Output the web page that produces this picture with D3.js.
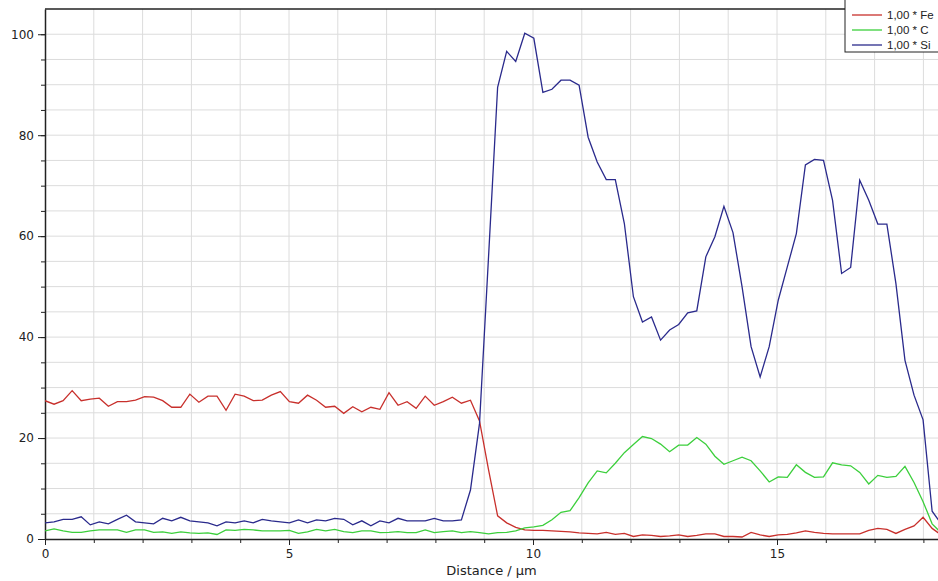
<!DOCTYPE html>
<html>
<head>
<meta charset="utf-8">
<script src="https://cdn.jsdelivr.net/npm/d3@7"></script>
<style>
  html, body { margin: 0; padding: 0; background: #fff; overflow: hidden; }
  svg text { font-family: "DejaVu Sans", Verdana, sans-serif; fill: #222; }
</style>
</head>
<body>
<div id="chart"></div>
<script>
// Line scan, one sample every ~0.1855 µm
const step = 0.1855
const xTicks = [0, 5, 10, 15]
const yTicks = [0, 20, 40, 60, 80, 100]
const seriesNames = ["1,00 * Fe", "1,00 * C", "1,00 * Si"]

const fe = [27.4, 26.7, 27.4, 29.4, 27.4, 27.7, 27.9, 26.3, 27.2, 27.2,
  27.5, 28.2, 28.1, 27.4, 26.1, 26.1, 28.7, 27.1, 28.3, 28.3,
  25.5, 28.7, 28.3, 27.4, 27.5, 28.5, 29.2, 27.2, 26.9, 28.5,
  27.5, 26.1, 26.3, 24.9, 26.2, 25.2, 26.1, 25.7, 29.0, 26.5,
  27.2, 25.9, 28.3, 26.5, 27.2, 28.1, 26.9, 27.5, 23.4, 13.7,
  4.6, 3.2, 2.3, 1.8, 1.7, 1.7, 1.6, 1.5, 1.4, 1.2,
  1.1, 1.0, 1.3, 0.9, 1.1, 0.5, 0.8, 0.7, 0.5, 0.6,
  0.8, 0.5, 0.7, 1.0, 1.0, 0.5, 0.5, 0.4, 1.3, 0.8,
  0.5, 0.8, 0.9, 1.2, 1.6, 1.3, 1.1, 1.0, 1.0, 1.0,
  1.0, 1.7, 2.1, 1.9, 1.1, 1.9, 2.6, 4.3, 2.1, 0.8]

const c = [1.6, 2.0, 1.6, 1.3, 1.3, 1.6, 1.8, 1.8, 1.8, 1.3,
  1.8, 1.8, 1.3, 1.4, 1.1, 1.4, 1.2, 1.1, 1.2, 0.9,
  1.8, 1.7, 1.9, 1.8, 1.6, 1.6, 1.6, 1.7, 1.1, 1.4,
  1.9, 1.6, 1.9, 1.45, 1.25, 1.6, 1.6, 1.25, 1.3, 1.45,
  1.25, 1.25, 1.8, 1.25, 1.45, 1.6, 1.25, 1.45, 1.25, 1.0,
  1.25, 1.3, 1.6, 2.2, 2.4, 2.7, 3.8, 5.3, 5.6, 8.2,
  11.1, 13.5, 13.1, 15.0, 17.1, 18.7, 20.3, 19.9, 18.8, 17.3,
  18.6, 18.6, 20.1, 18.8, 16.4, 14.8, 15.5, 16.2, 15.5, 13.5,
  11.3, 12.3, 12.2, 14.7, 13.2, 12.2, 12.3, 15.1, 14.7, 14.5,
  13.2, 10.9, 12.6, 12.2, 12.4, 14.4, 11.2, 7.4, 3.0, 1.2]

const si = [3.2, 3.4, 3.9, 3.9, 4.4, 2.8, 3.4, 3.0, 3.9, 4.7,
  3.4, 3.2, 3.0, 4.1, 3.6, 4.3, 3.6, 3.4, 3.2, 2.6,
  3.4, 3.2, 3.6, 3.2, 3.9, 3.6, 3.4, 3.2, 3.8, 3.2,
  3.8, 3.6, 4.1, 3.9, 2.8, 3.6, 2.6, 3.6, 3.2, 4.1,
  3.6, 3.6, 3.6, 4.1, 3.6, 3.6, 3.8, 9.7, 22.9, 56.0,
  89.5, 96.6, 94.6, 100.2, 99.2, 88.5, 89.1, 90.9, 90.9, 89.9,
  79.6, 74.7, 71.2, 71.2, 62.5, 48.0, 43.0, 44.0, 39.4, 41.4,
  42.5, 44.8, 45.2, 55.9, 59.9, 65.9, 60.7, 50.0, 38.1, 32.1,
  38.1, 47.3, 53.9, 60.5, 74.1, 75.2, 75.0, 67.1, 52.6, 53.8,
  71.1, 67.1, 62.4, 62.4, 50.6, 35.4, 28.5, 23.6, 5.5, 3.0]

const colors = ["#c8302c", "#3ccf3c", "#2a2a8c"]

const width = 938
const height = 581
const margin = { top: 9, right: 0, bottom: 42, left: 45 }
const innerW = width - margin.left - margin.right
const innerH = height - margin.top - margin.bottom

const svg = d3.select("#chart")
  .append("svg")
  .attr("width", width)
  .attr("height", height)

const g = svg.append("g")
  .attr("transform", `translate(${margin.left},${margin.top})`)

const x = d3.scaleLinear().domain([0, innerW / 48.8]).range([0, innerW])
const y = d3.scaleLinear().domain([0, 105]).range([innerH, 0])

// Grid: every 1 µm and every 5 units
g.append("g")
  .selectAll("line")
  .data(d3.range(1, Math.floor(x.domain()[1]) + 1))
  .join("line")
  .attr("x1", (d) => x(d)).attr("x2", (d) => x(d))
  .attr("y1", 0).attr("y2", innerH)
  .attr("stroke", "#dcdcdc")

g.append("g")
  .selectAll("line")
  .data(d3.range(5, 105, 5))
  .join("line")
  .attr("x1", 0).attr("x2", innerW)
  .attr("y1", (d) => y(d)).attr("y2", (d) => y(d))
  .attr("stroke", "#dcdcdc")

// Minor ticks
g.append("g")
  .attr("transform", `translate(0,${innerH})`)
  .call(d3.axisBottom(x).tickValues(d3.range(0, 19)).tickSize(4).tickFormat(""))
  .call((a) => a.select(".domain").remove())

g.append("g")
  .call(d3.axisLeft(y).tickValues(d3.range(0, 105, 5)).tickSize(4).tickFormat(""))
  .call((a) => a.select(".domain").remove())

// Major axes
const xAxis = g.append("g")
  .attr("transform", `translate(0,${innerH})`)
  .call(d3.axisBottom(x).tickValues(xTicks).tickSize(6).tickPadding(4).tickSizeOuter(0))
xAxis.selectAll("text").attr("font-size", 12)

const yAxis = g.append("g")
  .call(d3.axisLeft(y).tickValues(yTicks).tickSize(7).tickPadding(4).tickSizeOuter(0))
yAxis.selectAll("text").attr("font-size", 12)

svg.selectAll(".tick line").attr("stroke", "#222")
svg.selectAll(".domain").attr("stroke", "#222").attr("stroke-width", 1.5)

// top frame line
g.append("line")
  .attr("x1", 0).attr("x2", innerW)
  .attr("y1", 0).attr("y2", 0)
  .attr("stroke", "#222").attr("stroke-width", 1.5)

// Series
g.append("clipPath").attr("id", "clip")
  .append("rect").attr("width", innerW).attr("height", innerH)

const line = d3.line()
  .x((d, i) => x(i * step))
  .y((d) => y(d))

const plot = g.append("g").attr("clip-path", "url(#clip)")
;[fe, c, si].forEach((s, k) => {
  plot.append("path")
    .datum(s)
    .attr("d", line)
    .attr("fill", "none")
    .attr("stroke", colors[k])
    .attr("stroke-width", 1.3)
})

svg.append("text")
  .attr("x", margin.left + innerW / 2)
  .attr("y", 575)
  .attr("text-anchor", "middle")
  .attr("font-size", 13)
  .text("Distance / µm")

// Legend, sitting against the right edge of the window
const legend = svg.append("g").attr("transform", "translate(845,-1)")
legend.append("rect")
  .attr("width", 130).attr("height", 53)
  .attr("fill", "#fff").attr("stroke", "#222")

seriesNames.forEach((name, k) => {
  const yy = 16 + k * 15
  legend.append("line")
    .attr("x1", 7).attr("x2", 37)
    .attr("y1", yy).attr("y2", yy)
    .attr("stroke", colors[k]).attr("stroke-width", 1.3)
  legend.append("text")
    .attr("x", 42).attr("y", yy)
    .attr("dy", "0.35em")
    .attr("font-size", 11.5)
    .style("font-family", "'Liberation Sans', Arial, sans-serif")
    .text(name)
})
</script>
</body>
</html>
